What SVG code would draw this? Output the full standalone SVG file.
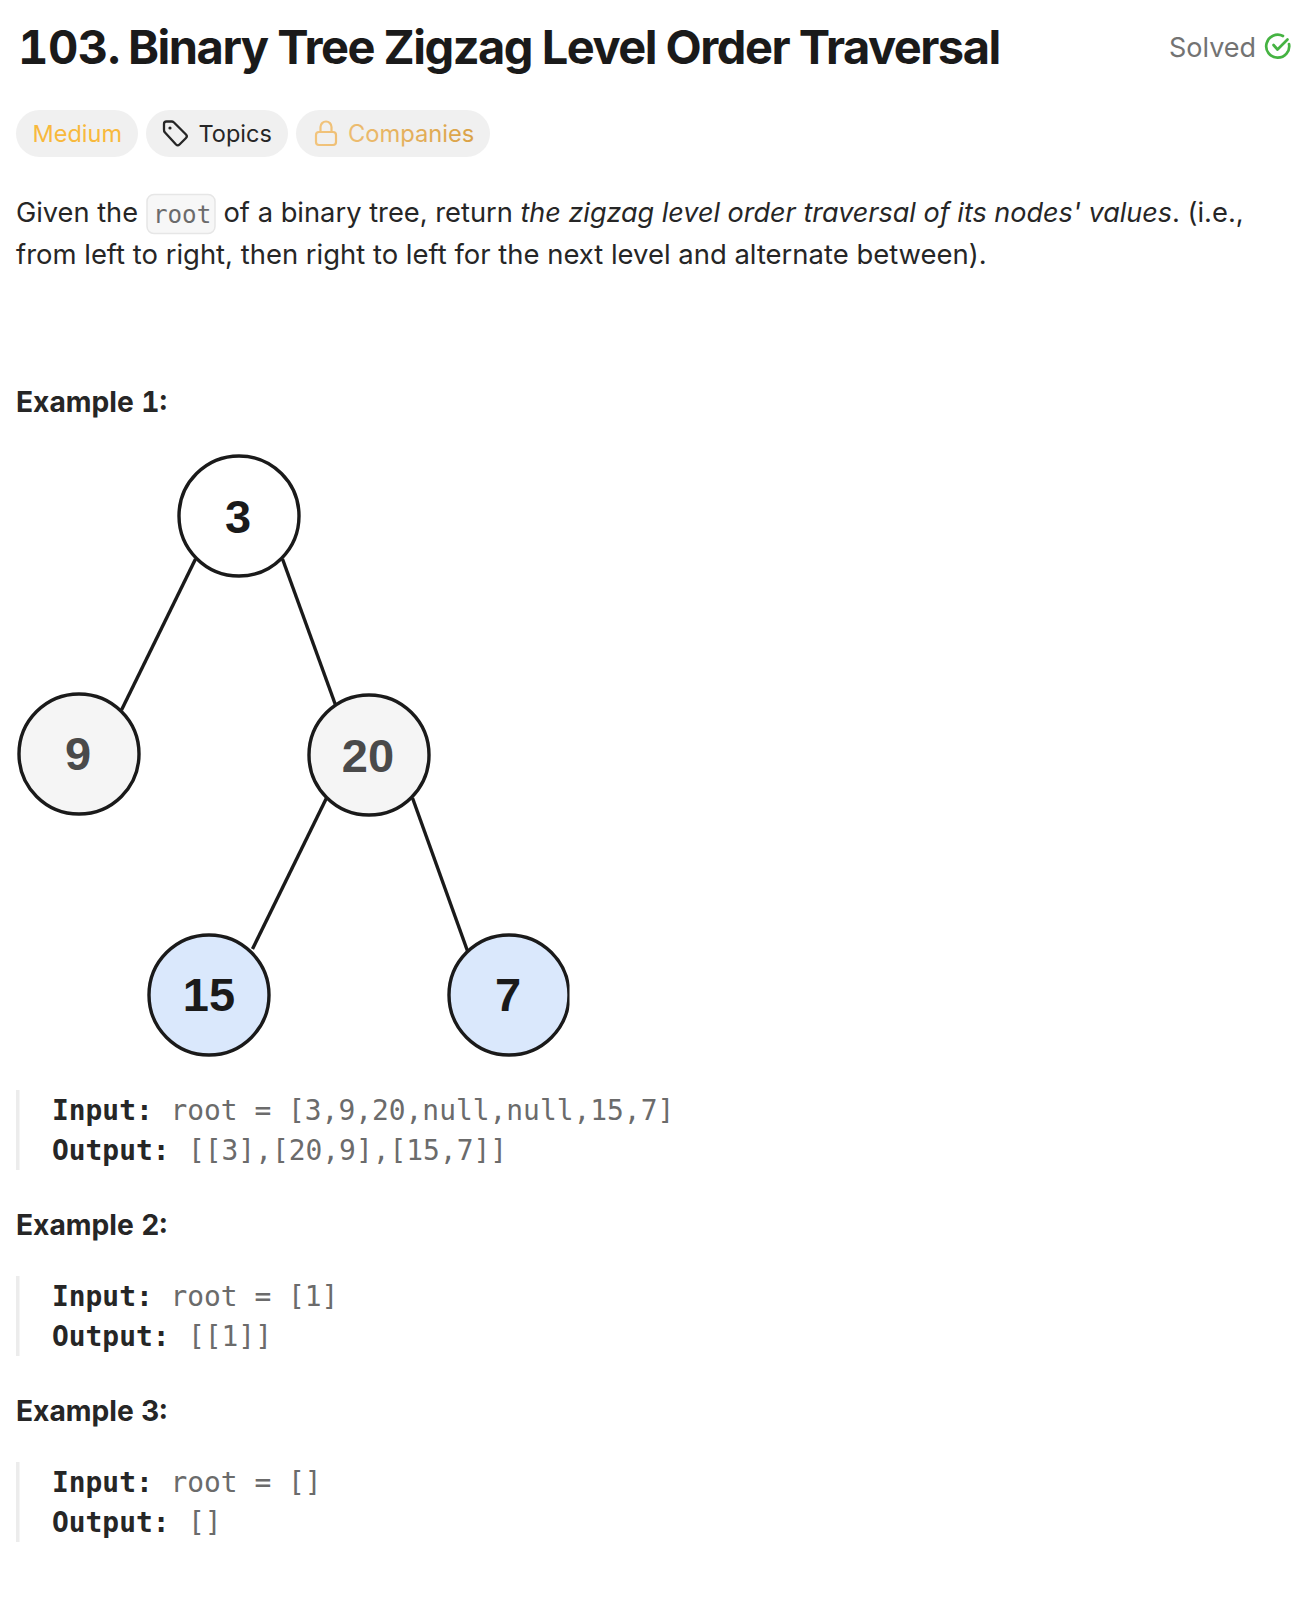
<svg xmlns="http://www.w3.org/2000/svg" width="1310" height="1610" viewBox="0 0 1310 1610">
<defs>
<linearGradient id="gold" gradientUnits="userSpaceOnUse" x1="316" y1="0" x2="480" y2="0"><stop offset="0" stop-color="#f2c47c"/><stop offset="1" stop-color="#d9a044"/></linearGradient>
<clipPath id="crop"><rect x="0" y="400" width="569.500" height="700"/></clipPath>
</defs>
<style>
text{font-family:Inter,"Liberation Sans",sans-serif}
.title{font-size:47px;font-weight:700;fill:#1a1a1a;letter-spacing:-1.5px}
.chip{fill:#f0f0f0}
.pill{font-size:23.5px}
.body{font-size:27.4px;fill:#262626}
.h{font-size:28.2px;font-weight:700;fill:#262626;font-feature-settings:"tnum"}
.m{font-family:"DejaVu Sans Mono","Liberation Mono",monospace;font-size:27.9px;fill:#6b6b6b}
.mb{font-family:"DejaVu Sans Mono","Liberation Mono",monospace;font-size:27.9px;font-weight:700;fill:#262626}
.bar{fill:#ececec}
.n{stroke:#1a1a1a;stroke-width:3.4}
.nt{font-family:"Liberation Sans",Arial,sans-serif;font-size:47px;font-weight:700;text-anchor:middle}
.e{stroke:#1a1a1a;stroke-width:3.4;fill:none}
</style>
<rect width="1310" height="1610" fill="#fff"/>
<text class="title" x="18" y="64" style="font-feature-settings:'tnum';letter-spacing:-.5px">103.</text>
<text class="title" x="128" y="64">Binary Tree Zigzag Level Order Traversal</text>
<text x="1169" y="56.500" font-size="27" fill="#737373">Solved</text>
<g fill="none" stroke="#45b342" stroke-width="2.700" stroke-linecap="round" stroke-linejoin="round"><path d="M1289 44 A11.500 11.500 0 1 1 1283 36"/><path d="M1273.500 45 l4 4.500 l10 -10"/></g>
<rect class="chip" x="16" y="110" width="122" height="47" rx="23.500"/>
<text class="pill" x="32.500" y="142" fill="#f8b93c">Medium</text>
<rect class="chip" x="146" y="110" width="142" height="47" rx="23.500"/>
<path d="M164 126 v-2 a2.500 2.500 0 0 1 2.500 -2.500 h5.500 a3 3 0 0 1 2 1 l12 12 a2.500 2.500 0 0 1 0 3.500 l-6.500 6.500 a2.500 2.500 0 0 1 -3.500 0 l-11 -12 a4 4 0 0 1 -1 -3 z" fill="none" stroke="#262626" stroke-width="2.300" stroke-linejoin="round"/>
<circle cx="170" cy="128" r="1.600" fill="#262626"/>
<text class="pill" x="198.500" y="142" fill="#262626">Topics</text>
<rect class="chip" x="296" y="110" width="194" height="47" rx="23.500"/>
<g fill="none" stroke="url(#gold)" stroke-width="2.200"><rect x="316" y="132" width="20" height="13" rx="3"/><path d="M320.500 132 v-5 a5.500 5.500 0 0 1 11 0 v5"/></g>
<text class="pill" x="348" y="142" fill="url(#gold)" style="font-size:23.7px">Companies</text>
<text class="body" x="16" y="222" style="font-size:27.200px">Given the</text>
<rect x="147" y="194.500" width="68" height="39" rx="7" fill="#f7f7f7" stroke="#e6e6e6" stroke-width="1.500"/>
<text class="m" x="153" y="223" style="font-size:24.2px">root</text>
<text class="body" x="223.500" y="222" style="font-size:27.300px">of a binary tree, return</text>
<text class="body" x="520.500" y="222" font-style="italic" style="font-size:27px">the zigzag level order traversal of its nodes' values</text>
<text class="body" x="1172" y="222" style="font-size:27.300px">. (i.e.,</text>
<text class="body" x="16" y="264" style="font-size:27.450px">from left to right, then right to left for the next level and alternate between).</text>
<text class="h" x="16" y="412">Example 1:</text>
<g id="connectors">
<line class="e" x1="195.500" y1="559" x2="121.500" y2="710"/>
<line class="e" x1="282.500" y1="559" x2="335.500" y2="705"/>
<line class="e" x1="326.500" y1="798" x2="252.500" y2="949"/>
<line class="e" x1="412.500" y1="798" x2="467.500" y2="951"/>
</g>
<g id="node-3"><circle class="n" cx="239" cy="516" r="60" fill="#fff"/><text class="nt" x="238" y="533" fill="#1a1a1a">3</text></g>
<g id="node-9"><circle class="n" cx="79" cy="754" r="60" fill="#f5f5f5"/><text class="nt" x="78" y="770" fill="#4a4a4a">9</text></g>
<g id="node-20"><circle class="n" cx="369" cy="755" r="60" fill="#f5f5f5"/><text class="nt" x="368" y="772" fill="#4a4a4a">20</text></g>
<g id="node-15"><circle class="n" cx="209" cy="995" r="60" fill="#dae8fc"/><text class="nt" x="209" y="1011" fill="#1a1a1a">15</text></g>
<g id="node-7"><circle class="n" cx="509" cy="995" r="60" fill="#dae8fc" clip-path="url(#crop)"/><text class="nt" x="508" y="1011" fill="#1a1a1a">7</text></g>
<rect class="bar" x="16" y="1090" width="3.500" height="80"/>
<text class="mb" x="52" y="1120">Input:</text><text class="m" x="170.500" y="1120">root = [3,9,20,null,null,15,7]</text>
<text class="mb" x="52" y="1160">Output:</text><text class="m" x="188" y="1160">[[3],[20,9],[15,7]]</text>
<text class="h" x="16" y="1235">Example 2:</text>
<rect class="bar" x="16" y="1276" width="3.500" height="80"/>
<text class="mb" x="52" y="1306">Input:</text><text class="m" x="170.500" y="1306">root = [1]</text>
<text class="mb" x="52" y="1346">Output:</text><text class="m" x="188" y="1346">[[1]]</text>
<text class="h" x="16" y="1421">Example 3:</text>
<rect class="bar" x="16" y="1462" width="3.500" height="80"/>
<text class="mb" x="52" y="1492">Input:</text><text class="m" x="170.500" y="1492">root = []</text>
<text class="mb" x="52" y="1532">Output:</text><text class="m" x="188" y="1532">[]</text>
</svg>
